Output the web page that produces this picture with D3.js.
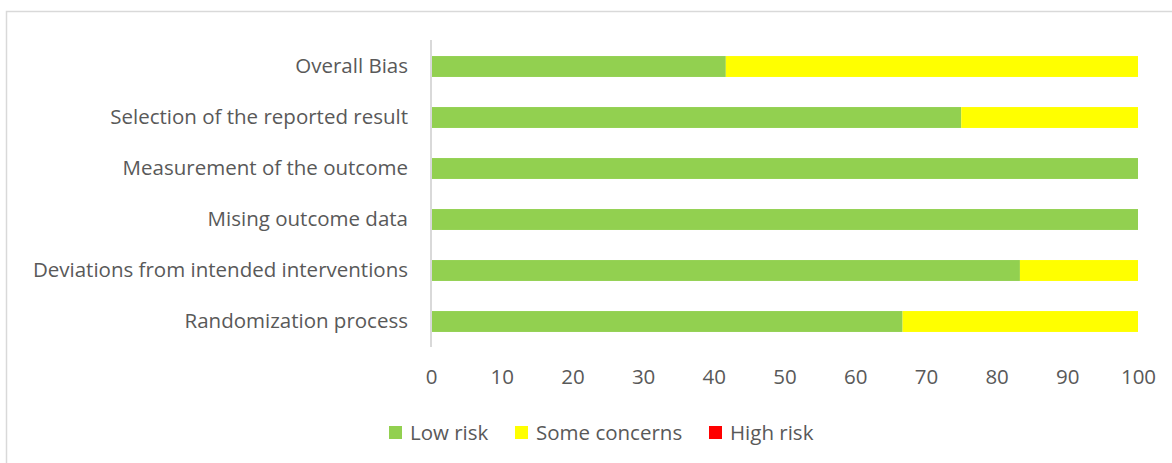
<!DOCTYPE html>
<html>
<head>
<meta charset="utf-8">
<script src="https://cdn.jsdelivr.net/npm/d3@7"></script>
<style>
  body { margin: 0; background: #fff; }
  text { font-family: "Open Sans", "Noto Sans", sans-serif; fill: #595959; }
</style>
</head>
<body>
<div id="container"></div>
<script>
/* CONSTANTS AND GLOBALS */
const width = 1172,
  height = 463,
  margin = { top: 41, bottom: 116, left: 431, right: 34 },
  fontSize = 20.5;

/* DATA */
const categories = [
  "Overall Bias",
  "Selection of the reported result",
  "Measurement of the outcome",
  "Mising outcome data",
  "Deviations from intended interventions",
  "Randomization process"
];
const lowRisk = [41.7, 75, 100, 100, 83.3, 66.7];
const someConcerns = [58.3, 25, 0, 0, 16.7, 33.3];
const highRisk = [0, 0, 0, 0, 0, 0];
const seriesNames = ["Low risk", "Some concerns", "High risk"];
const seriesColors = ["#92D050", "#FFFF00", "#FF0000"];
const xTicks = [0, 10, 20, 30, 40, 50, 60, 70, 80, 90, 100];

const rows = categories.map((c, i) => ({
  category: c,
  "Low risk": lowRisk[i],
  "Some concerns": someConcerns[i],
  "High risk": highRisk[i]
}));

const stacked = d3.stack().keys(seriesNames)(rows);

/* SCALES */
const xScale = d3.scaleLinear()
  .domain([0, 100])
  .range([margin.left, width - margin.right]);

const yScale = d3.scaleBand()
  .domain(categories)
  .range([margin.top, height - margin.bottom])
  .paddingInner(0.59)
  .paddingOuter(0.295);

const colorScale = d3.scaleOrdinal().domain(seriesNames).range(seriesColors);

/* SVG */
const svg = d3.select("#container")
  .append("svg")
  .attr("width", width)
  .attr("height", height);

// chart frame (only top and left edges show in the picture)
svg.append("rect")
  .attr("x", 6.5)
  .attr("y", 11.5)
  .attr("width", width + 20)
  .attr("height", height + 20)
  .attr("fill", "none")
  .attr("stroke", "#d9d9d9")
  .attr("stroke-width", 1.5);

// bars
svg.append("g")
  .selectAll("g")
  .data(stacked)
  .join("g")
    .attr("fill", d => colorScale(d.key))
  .selectAll("rect")
  .data(d => d)
  .join("rect")
    .attr("x", d => xScale(d[0]))
    .attr("y", d => yScale(d.data.category))
    .attr("width", d => xScale(d[1]) - xScale(d[0]))
    .attr("height", yScale.bandwidth());

// y axis (category labels + vertical line)
const yAxis = d3.axisLeft(yScale).tickSize(0).tickPadding(23);
const yG = svg.append("g")
  .attr("transform", `translate(${margin.left}, 0)`)
  .call(yAxis);
yG.select(".domain")
  .attr("stroke", "#d9d9d9")
  .attr("stroke-width", 2)
  .attr("d", `M0,${margin.top - 1}V${height - margin.bottom}`);
yG.selectAll("text")
  .attr("font-size", fontSize)
  .attr("fill", "#595959");

// x axis (labels only)
const xAxis = d3.axisBottom(xScale).tickValues(xTicks).tickSize(0).tickPadding(0);
const xG = svg.append("g")
  .attr("transform", `translate(0, ${height - margin.bottom + 22})`)
  .call(xAxis);
xG.select(".domain").remove();
xG.selectAll("text")
  .attr("font-size", fontSize)
  .attr("fill", "#595959");

// legend
const legendX = [389, 515, 709];
const legend = svg.append("g")
  .selectAll("g")
  .data(seriesNames)
  .join("g")
    .attr("transform", (d, i) => `translate(${legendX[i]}, 426)`);
legend.append("rect")
  .attr("width", 13)
  .attr("height", 13)
  .attr("fill", d => colorScale(d));
legend.append("text")
  .attr("x", 21)
  .attr("y", 7)
  .attr("dy", "0.35em")
  .attr("font-size", fontSize)
  .text(d => d);
</script>
</body>
</html>
